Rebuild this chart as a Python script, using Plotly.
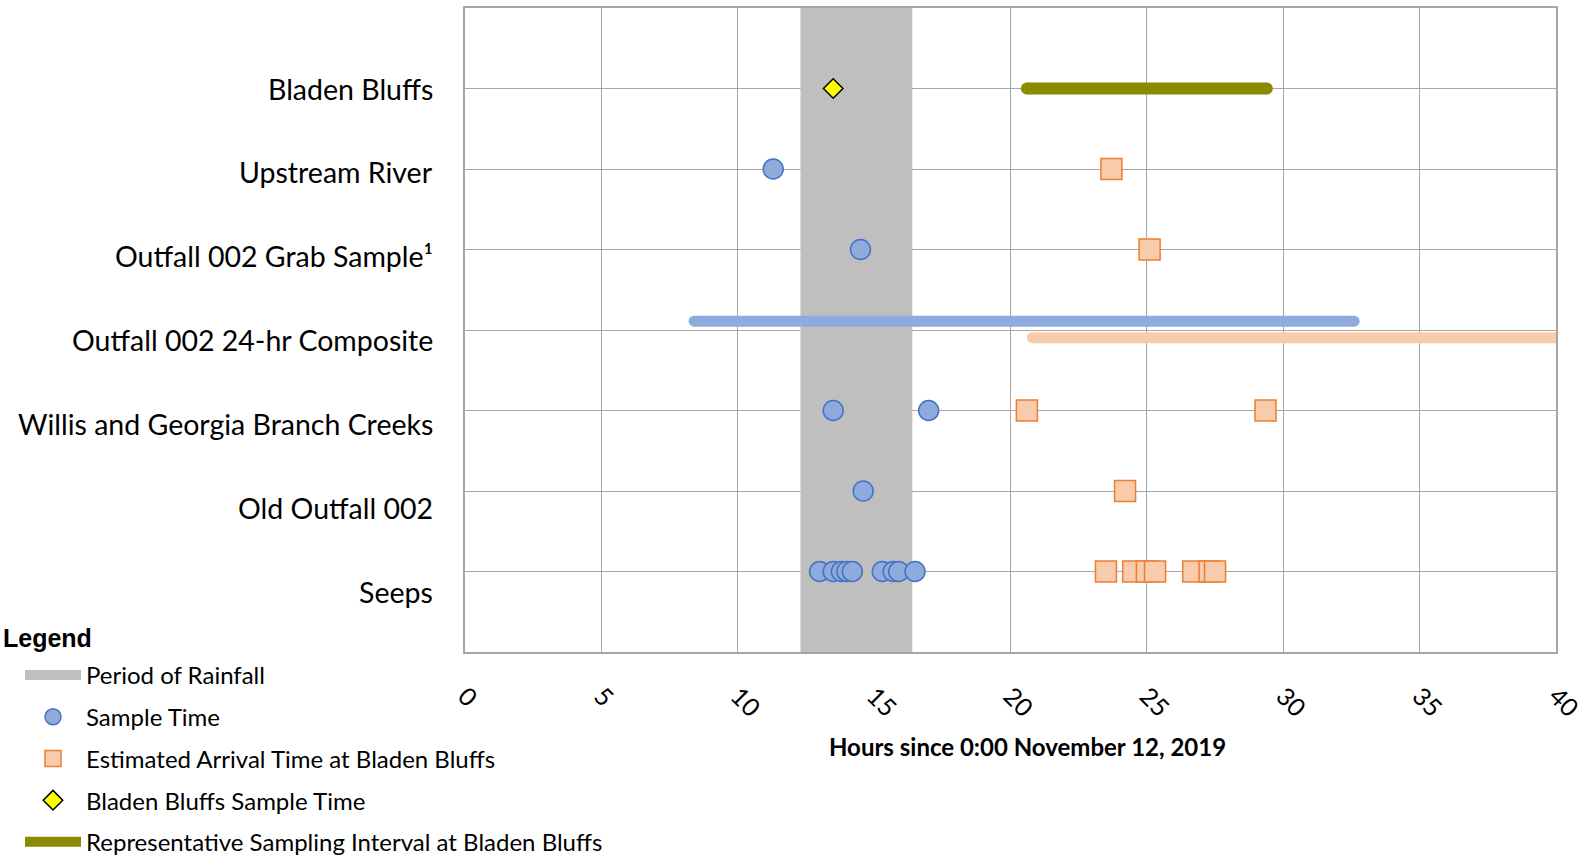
import plotly.graph_objects as go

# ---------------- data ----------------
categories = ["Bladen Bluffs", "Upstream River", "Outfall 002 Grab Sample¹",
              "Outfall 002 24-hr Composite", "Willis and Georgia Branch Creeks",
              "Old Outfall 002", "Seeps"]

rain_period = [12.3, 16.4]

bladen_sample = [13.5]
bladen_interval = [20.6, 29.4]

upstream_sample = [11.3]
upstream_arrival = [23.7]

grab_sample = [14.5]
grab_arrival = [25.1]

composite_sample_interval = [8.4, 32.6]
composite_arrival_interval = [20.8, 44.8]

willis_sample = [13.5, 17.0]
willis_arrival = [20.6, 29.35]

old_sample = [14.6]
old_arrival = [24.2]

seeps_sample = [13.0, 13.5, 13.8, 14.0, 14.2, 15.3, 15.7, 15.9, 16.5]
seeps_arrival = [23.5, 24.5, 25.0, 25.3, 26.7, 27.3, 27.5]

x_ticks = [0, 5, 10, 15, 20, 25, 30, 35, 40]

# ---------------- layout helpers ----------------
n = len(categories)
row = {c: n - i for i, c in enumerate(categories)}   # top row = 7, bottom = 1

FONT = "Lato"
BLUE_FILL, BLUE_LINE = "#8FAADC", "#4472C4"
ORG_FILL, ORG_LINE = "#F8CBAD", "#ED7D31"
OLIVE = "#8B8A00"
GRAY = "#BFBFBF"
GRID = "#A6A6A6"

W, H = 1596, 857
ML, MR, MT, MB = 465, 40, 8, 205
PW = W - ML - MR
PH = H - MT - MB

fig = go.Figure()

# Period of rainfall (filled band)
fig.add_trace(go.Scatter(
    x=[rain_period[0], rain_period[1], rain_period[1], rain_period[0], rain_period[0]],
    y=[0, 0, n + 1, n + 1, 0],
    fill="toself", fillcolor=GRAY, mode="lines", line=dict(width=0, color=GRAY),
    showlegend=False, hoverinfo="skip"))
# legend entry for the rainfall band
fig.add_trace(go.Scatter(
    x=[None], y=[None], mode="lines", line=dict(color=GRAY, width=14),
    name="Period of Rainfall", legendgroup="g1", hoverinfo="skip"))

# Sample times
sx, sy = [], []
for cat, vals in [("Upstream River", upstream_sample), ("Outfall 002 Grab Sample¹", grab_sample),
                  ("Willis and Georgia Branch Creeks", willis_sample),
                  ("Old Outfall 002", old_sample), ("Seeps", seeps_sample)]:
    sx += vals
    sy += [row[cat]] * len(vals)
fig.add_trace(go.Scatter(
    x=sx, y=sy, mode="markers", name="Sample Time", legendgroup="g2",
    marker=dict(symbol="circle", size=20, color=BLUE_FILL, line=dict(color=BLUE_LINE, width=1.5))))

# Estimated arrival times
ax, ay = [], []
for cat, vals in [("Upstream River", upstream_arrival), ("Outfall 002 Grab Sample¹", grab_arrival),
                  ("Willis and Georgia Branch Creeks", willis_arrival),
                  ("Old Outfall 002", old_arrival), ("Seeps", seeps_arrival)]:
    ax += vals
    ay += [row[cat]] * len(vals)
fig.add_trace(go.Scatter(
    x=ax, y=ay, mode="markers", name="Estimated Arrival Time at Bladen Bluffs", legendgroup="g3",
    marker=dict(symbol="square", size=21, color=ORG_FILL, line=dict(color=ORG_LINE, width=1.5))))

# Bladen Bluffs sample time
fig.add_trace(go.Scatter(
    x=bladen_sample, y=[row["Bladen Bluffs"]] * len(bladen_sample), mode="markers",
    name="Bladen Bluffs Sample Time", legendgroup="g4",
    marker=dict(symbol="diamond", size=15, color="#FFFF00", line=dict(color="black", width=1.5))))

# Intervals drawn as thick lines with rounded ends
def capped_line(xs, y, color, width, name=None, group=None):
    show = name is not None
    fig.add_trace(go.Scatter(
        x=xs, y=[y] * len(xs), mode="lines", line=dict(color=color, width=width),
        name=name, showlegend=show, legendgroup=group, hoverinfo="skip"))
    fig.add_trace(go.Scatter(
        x=xs, y=[y] * len(xs), mode="markers", showlegend=False, hoverinfo="skip",
        marker=dict(symbol="circle", size=width, color=color, line=dict(width=0))))

capped_line(bladen_interval, row["Bladen Bluffs"], OLIVE, 12,
            "Representative Sampling Interval at Bladen Bluffs", "g5")
capped_line(composite_sample_interval, row["Outfall 002 24-hr Composite"] + 0.11, BLUE_FILL, 11)
capped_line(composite_arrival_interval, row["Outfall 002 24-hr Composite"] - 0.095, ORG_FILL, 11)

# Category labels (left side)
for cat in categories:
    r = row[cat]
    fig.add_annotation(x=0, xref="paper", y=r, yref="y", xanchor="right", yanchor="middle",
                       xshift=-30, yshift=-(n - r) * 3.35, text=cat, showarrow=False,
                       font=dict(family=FONT, size=28.5, color="black"))

# Axis title
fig.add_annotation(x=0.5, xref="paper", y=0, yref="paper", xanchor="center", yanchor="middle",
                   xshift=17, yshift=-94, showarrow=False,
                   text="<b>Hours since 0:00 November 12, 2019</b>",
                   font=dict(family=FONT, size=24, color="black"))

# Legend heading
fig.add_annotation(x=(1 - ML) / PW, xref="paper", y=0.0217, yref="paper", xanchor="left",
                   yanchor="middle", showarrow=False, text="<b>Legend</b>",
                   font=dict(family="Liberation Sans", size=25, color="black"))

fig.update_layout(
    width=W, height=H,
    margin=dict(l=ML, r=MR, t=MT, b=MB, autoexpand=False),
    plot_bgcolor="white", paper_bgcolor="white",
    font=dict(family=FONT, color="black"),
    legend=dict(
        xref="paper", yref="paper", x=(8 - ML) / PW, y=-0.0015, xanchor="left", yanchor="top",
        font=dict(family=FONT, size=24, color="black"),
        itemwidth=56, tracegroupgap=7.5, indentation=12,
        bgcolor="rgba(0,0,0,0)"),
    showlegend=True,
)
fig.update_xaxes(range=[0, 40], tickvals=x_ticks, tickangle=45, ticklabelstandoff=18,
                 showgrid=True, gridcolor=GRID, gridwidth=1.3,
                 showline=True, linecolor=GRID, linewidth=1.5, mirror=True,
                 ticks="", zeroline=False,
                 tickfont=dict(family=FONT, size=25, color="black"))
fig.update_yaxes(range=[0, n + 1], tickvals=list(range(1, n + 1)), showticklabels=False,
                 showgrid=True, gridcolor=GRID, gridwidth=1.3,
                 showline=True, linecolor=GRID, linewidth=1.5, mirror=True,
                 ticks="", zeroline=False)

# remove the browser's default 8px page margin so the figure fills the window exactly
fig.write_html("out.html", config={"displayModeBar": False},
               post_script="document.body.style.margin='0px';")
